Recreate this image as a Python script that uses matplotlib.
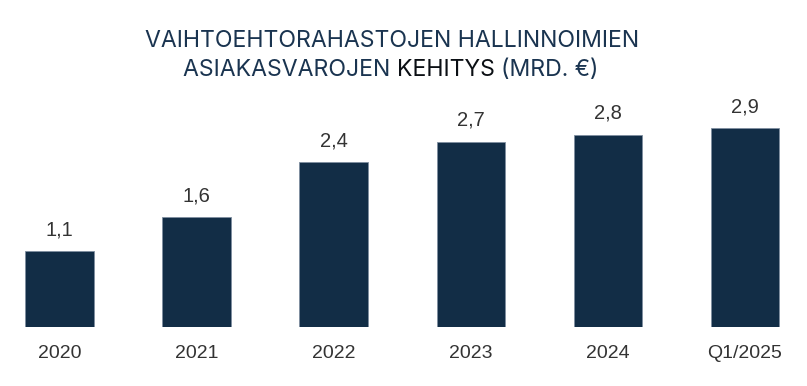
import matplotlib
matplotlib.use("Agg")
import matplotlib.pyplot as plt

categories = ["2020", "2021", "2022", "2023", "2024", "Q1/2025"]
values = [1.1, 1.6, 2.4, 2.7, 2.8, 2.9]
value_labels = ["1,1", "1,6", "2,4", "2,7", "2,8", "2,9"]

W, H = 807, 386
fig = plt.figure(figsize=(W / 100, H / 100), dpi=100)
fig.patch.set_facecolor("white")

base_px = 326.7
top_px = 100
ax = fig.add_axes([0, (H - base_px) / H, 1, (base_px - top_px) / H])
units = (base_px - top_px) / 68.5
ax.set_ylim(0, units)
ax.set_xlim(-59.5 / 137, 5 + (W - 745) / 137)

x = list(range(len(categories)))
bars = ax.bar(x, values, width=0.5, color="#122d46", edgecolor="#7f8fa0", linewidth=0.6)
for xi, v, lab in zip(x, values, value_labels):
    ax.annotate(lab, (xi, v), xytext=(0, 12), textcoords="offset pixels",
                ha="center", va="bottom", fontsize=14.5, color="#333333",
                family="Liberation Sans")

ax.set_xticks(x)
ax.set_xticklabels(categories, fontsize=14, color="#333333", family="Liberation Sans")
ax.tick_params(axis="x", length=0, pad=13)
ax.set_yticks([])
for s in ax.spines.values():
    s.set_visible(False)

title_font = dict(fontsize=16.6, family="Inter")
navy = "#1a3450"
fig.text(392 / W, 1 - 41 / H, "VAIHTOEHTORAHASTOJEN HALLINNOIMIEN", ha="center", va="center",
         color=navy, **title_font)

# second line in pieces (KEHITYS darker)
pieces = [("ASIAKASVAROJEN ", navy), ("KEHITYS ", "#0b0f14"), ("(MRD. €)", navy)]
renderer = fig.canvas.get_renderer()
tmp = [fig.text(0, 0, p, **title_font) for p, _ in pieces]
widths = [t.get_window_extent(renderer).width for t in tmp]
for t in tmp:
    t.remove()
total = sum(widths)
xpos = 391 - total / 2
for (p, c), w in zip(pieces, widths):
    fig.text(xpos / W, 1 - 70 / H, p, ha="left", va="center", color=c, **title_font)
    xpos += w

fig.savefig("out.png", dpi=100)
